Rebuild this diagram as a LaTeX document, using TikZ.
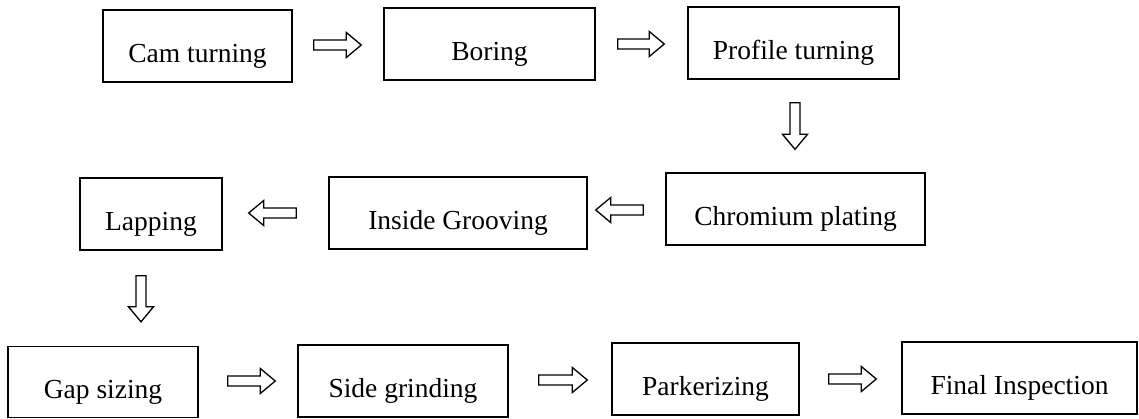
\documentclass[tikz,border=0pt]{standalone}
\usepackage{fontspec}
\setmainfont{Liberation Serif}
\usetikzlibrary{calc}

% Hollow block arrow between two named points: shaft, then open triangular head.
\newcommand\hollowarrow[2]{%
  \draw[flowarrow] let \p1=(#1), \p2=(#2),
      \n1={atan2(\y2-\y1,\x2-\x1)}, \n2={veclen(\x2-\x1,\y2-\y1)} in
    [shift={(\x1,\y1)}, rotate=\n1]
    (0,-5) -- ({\n2-15},-5) -- ({\n2-15},-12.5) -- (\n2,0)
    -- ({\n2-15},12.5) -- ({\n2-15},5) -- (0,5) -- cycle;}

\tikzset{
  stage/.style={draw, line width=1.4pt, rectangle, inner sep=0pt,
    minimum height=72pt, text height=36pt, text depth=4pt,
    font=\fontsize{27.5}{30}\selectfont},
  flowarrow/.style={line width=1.3pt, line join=miter},
}

\begin{document}
\begin{tikzpicture}[x=1pt, y=1pt]
\useasboundingbox[fill=white] (0,0) rectangle (1139,-418);

% process stages
\node[stage, minimum width=189pt] (cam)     at (197.5,-46)  {Cam turning};
\node[stage, minimum width=211pt] (boring)  at (489.5,-44)  {Boring};
\node[stage, minimum width=211pt] (profile) at (793.5,-43)  {Profile turning};
\node[stage, minimum width=259pt] (chrom)   at (795.5,-209) {Chromium plating};
\node[stage, minimum width=258pt] (inside)  at (458,-213)   {Inside Grooving};
\node[stage, minimum width=142pt] (lapping) at (151,-214)   {Lapping};
\node[stage, minimum width=190pt, minimum height=71pt] (gap) at (103,-382) {Gap sizing};
\node[stage, minimum width=210pt] (side)    at (403,-381)   {Side grinding};
\node[stage, minimum width=187pt] (park)    at (705.5,-379) {Parkerizing};
\node[stage, minimum width=235pt] (final)   at (1019.5,-378) {Final Inspection};

% arrow end points, set back from the boxes they join
\coordinate (a1s) at ($(cam.east)+(21,1)$);
\coordinate (a1e) at ($(boring.west)+(-22,-1)$);
\coordinate (a2s) at ($(boring.east)+(22,0)$);
\coordinate (a2e) at ($(profile.west)+(-23,-1)$);
\coordinate (d1s) at ($(profile.south)+(1.5,-23)$);
\coordinate (d1e) at ($(chrom.north)+(-0.5,23)$);
\coordinate (l1s) at ($(chrom.west)+(-22,-1)$);
\coordinate (l1e) at ($(inside.east)+(8,3)$);
\coordinate (l2s) at ($(inside.west)+(-32,0)$);
\coordinate (l2e) at ($(lapping.east)+(26,1)$);
\coordinate (d2s) at ($(lapping.south)+(-10,-25)$);
\coordinate (d2e) at ($(gap.north)+(38,24)$);
\coordinate (r3s) at ($(gap.east)+(29,1)$);
\coordinate (r3e) at ($(side.west)+(-22,0)$);
\coordinate (r4s) at ($(side.east)+(30,1)$);
\coordinate (r4e) at ($(park.west)+(-24,-1)$);
\coordinate (r5s) at ($(park.east)+(29,0)$);
\coordinate (r5e) at ($(final.west)+(-25,-1)$);

% flow arrows
\hollowarrow{a1s}{a1e}
\hollowarrow{a2s}{a2e}
\hollowarrow{d1s}{d1e}
\hollowarrow{l1s}{l1e}
\hollowarrow{l2s}{l2e}
\hollowarrow{d2s}{d2e}
\hollowarrow{r3s}{r3e}
\hollowarrow{r4s}{r4e}
\hollowarrow{r5s}{r5e}
\end{tikzpicture}
\end{document}
